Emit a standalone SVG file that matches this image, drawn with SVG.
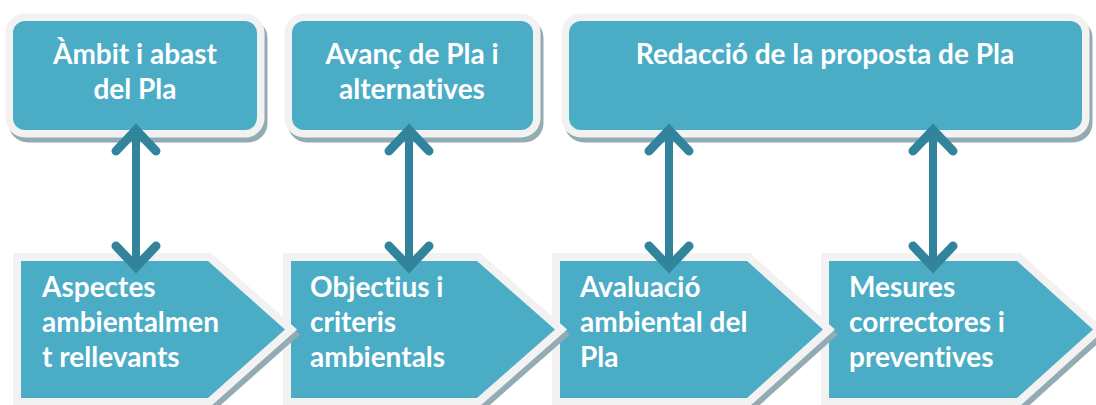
<svg xmlns="http://www.w3.org/2000/svg" width="1096" height="405" viewBox="0 0 1096 405">
<defs>
<style>
.box{fill:#4BACC6;stroke:#F2F2F2;stroke-width:15;paint-order:stroke;stroke-linejoin:round}
.chev{fill:#4BACC6;stroke:#F2F2F2;stroke-width:16;paint-order:stroke;stroke-linejoin:miter;stroke-miterlimit:10}
.shadow{fill:#93ABB2;stroke:#93ABB2;stroke-width:15;stroke-linejoin:round}
.cshadow{fill:#93ABB2;stroke:#93ABB2;stroke-width:16;stroke-linejoin:miter;stroke-miterlimit:10}
.t{font-family:Lato,"Open Sans",sans-serif;font-weight:bold;font-size:28px;fill:#FFFFFF;font-variant-ligatures:none;font-feature-settings:"liga" 0,"clig" 0}
.tc{text-anchor:middle}
.ar{fill:none;stroke:#31849B;stroke-width:9;stroke-linecap:round;stroke-linejoin:miter}
.sh{fill:none;stroke:#31849B;stroke-width:8}
</style>
</defs>
<rect width="1096" height="405" fill="#FFFFFF"/>

<g id="box1">
<rect class="shadow" x="16" y="26" width="244" height="109" rx="12"/>
<rect class="box" x="13" y="21" width="244" height="109" rx="12"/>
<text class="t tc" x="135" y="64">Àmbit i abast</text>
<text class="t tc" x="135" y="99">del Pla</text>
</g>
<g id="box2">
<rect class="shadow" x="295" y="26" width="241" height="109" rx="12"/>
<rect class="box" x="292" y="21" width="241" height="109" rx="12"/>
<text class="t tc" x="412" y="64">Avanç de Pla i</text>
<text class="t tc" x="412" y="99">alternatives</text>
</g>
<g id="box3">
<rect class="shadow" x="572" y="26" width="513" height="109" rx="12"/>
<rect class="box" x="569" y="21" width="513" height="109" rx="12"/>
<text class="t tc" x="825" y="64">Redacció de la proposta de Pla</text>
</g>

<g id="step4">
<path class="cshadow" d="M832,266 H1020 L1096,334.5 L1020,403 H832 Z"/>
<path class="chev" d="M829,261 H1017 L1093,329.5 L1017,398 H829 Z"/>
<text class="t" x="849" y="297">Mesures</text>
<text class="t" x="849" y="332">correctores i</text>
<text class="t" x="849" y="367">preventives</text>
</g>
<g id="step3">
<path class="cshadow" d="M563,266 H750 L826,334.5 L750,403 H563 Z"/>
<path class="chev" d="M560,261 H747 L823,329.5 L747,398 H560 Z"/>
<text class="t" x="580" y="297">Avaluació</text>
<text class="t" x="580" y="332">ambiental del</text>
<text class="t" x="580" y="367">Pla</text>
</g>
<g id="step2">
<path class="cshadow" d="M294,266 H480 L558,334.5 L480,403 H294 Z"/>
<path class="chev" d="M291,261 H477 L555,329.5 L477,398 H291 Z"/>
<text class="t" x="310" y="297">Objectius i</text>
<text class="t" x="310" y="332">criteris</text>
<text class="t" x="310" y="367">ambientals</text>
</g>
<g id="step1">
<path class="cshadow" d="M24,266 H211 L288,334.5 L211,403 H24 Z"/>
<path class="chev" d="M21,261 H208 L285,329.5 L208,398 H21 Z"/>
<text class="t" x="42" y="297">Aspectes</text>
<text class="t" x="42" y="332">ambientalmen</text>
<text class="t" x="42" y="367">t rellevants</text>
</g>

<g id="connectors">
<line class="sh" x1="136" y1="131" x2="136" y2="266"/>
<polyline class="ar" points="116,151 136,130 156,151"/>
<polyline class="ar" points="116,246 136,267 156,246"/>
<line class="sh" x1="409" y1="131" x2="409" y2="266"/>
<polyline class="ar" points="389,151 409,130 429,151"/>
<polyline class="ar" points="389,246 409,267 429,246"/>
<line class="sh" x1="669" y1="131" x2="669" y2="266"/>
<polyline class="ar" points="649,151 669,130 689,151"/>
<polyline class="ar" points="649,246 669,267 689,246"/>
<line class="sh" x1="933" y1="131" x2="933" y2="266"/>
<polyline class="ar" points="913,151 933,130 953,151"/>
<polyline class="ar" points="913,246 933,267 953,246"/>
</g>
</svg>
